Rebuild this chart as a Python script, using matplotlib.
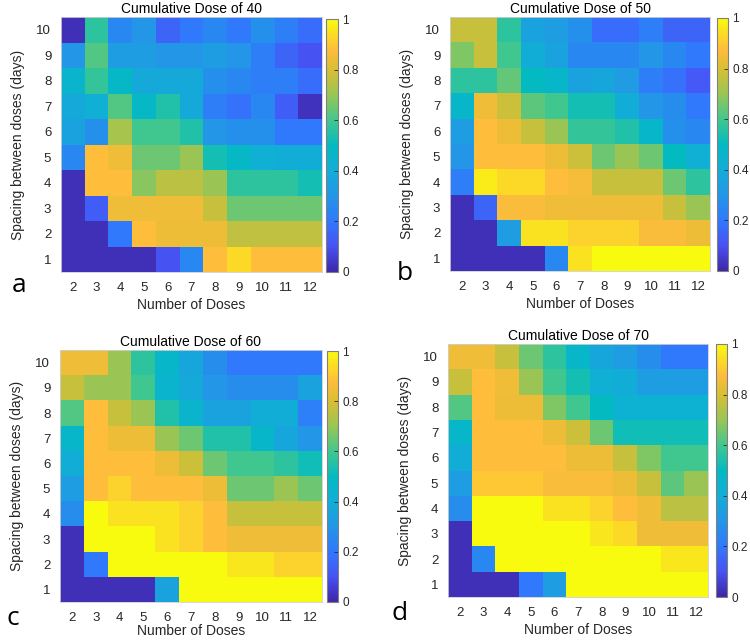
import numpy as np
import matplotlib
matplotlib.use("Agg")
import matplotlib.pyplot as plt
from matplotlib.colors import LinearSegmentedColormap

plt.rcParams['font.family'] = ['Liberation Sans', 'DejaVu Sans']

# parula-like colormap (MATLAB default)
parula_pts = [
    (0.00, (0.242, 0.150, 0.660)),
    (0.10, (0.281, 0.323, 0.958)),
    (0.20, (0.190, 0.470, 0.990)),
    (0.30, (0.135, 0.590, 0.905)),
    (0.40, (0.070, 0.680, 0.845)),
    (0.50, (0.010, 0.730, 0.760)),
    (0.60, (0.250, 0.780, 0.560)),
    (0.70, (0.600, 0.775, 0.330)),
    (0.80, (0.850, 0.745, 0.200)),
    (0.88, (0.995, 0.740, 0.235)),
    (1.00, (0.976, 0.983, 0.054)),
]
parula = LinearSegmentedColormap.from_list('parula', parula_pts)

n_doses = [2, 3, 4, 5, 6, 7, 8, 9, 10, 11, 12]
spacing = [1, 2, 3, 4, 5, 6, 7, 8, 9, 10]

# rows: spacing 1 (first) .. 10 (last); columns: number of doses 2..12
dose40 = [
    [0.02, 0.02, 0.02, 0.02, 0.10, 0.25, 0.88, 0.93, 0.88, 0.88, 0.88],
    [0.02, 0.02, 0.20, 0.88, 0.84, 0.84, 0.84, 0.76, 0.76, 0.76, 0.76],
    [0.02, 0.13, 0.85, 0.85, 0.85, 0.85, 0.77, 0.65, 0.65, 0.65, 0.65],
    [0.02, 0.88, 0.88, 0.68, 0.75, 0.75, 0.70, 0.57, 0.57, 0.57, 0.53],
    [0.25, 0.88, 0.85, 0.65, 0.65, 0.70, 0.53, 0.48, 0.42, 0.40, 0.40],
    [0.35, 0.28, 0.72, 0.60, 0.60, 0.55, 0.30, 0.28, 0.28, 0.20, 0.20],
    [0.38, 0.42, 0.62, 0.48, 0.55, 0.38, 0.22, 0.18, 0.25, 0.13, 0.03],
    [0.45, 0.58, 0.48, 0.38, 0.38, 0.38, 0.28, 0.25, 0.22, 0.22, 0.17],
    [0.30, 0.62, 0.33, 0.33, 0.30, 0.30, 0.33, 0.30, 0.22, 0.15, 0.10],
    [0.02, 0.57, 0.25, 0.30, 0.15, 0.20, 0.25, 0.20, 0.28, 0.22, 0.17],
]
dose50 = [
    [0.02, 0.02, 0.02, 0.02, 0.25, 0.95, 1.00, 1.00, 1.00, 1.00, 1.00],
    [0.02, 0.02, 0.33, 0.95, 0.95, 0.92, 0.92, 0.92, 0.87, 0.87, 0.84],
    [0.02, 0.15, 0.87, 0.87, 0.85, 0.85, 0.85, 0.85, 0.85, 0.77, 0.70],
    [0.22, 0.97, 0.93, 0.93, 0.88, 0.86, 0.77, 0.77, 0.77, 0.65, 0.57],
    [0.30, 0.88, 0.88, 0.88, 0.84, 0.78, 0.65, 0.70, 0.65, 0.50, 0.42],
    [0.33, 0.88, 0.84, 0.77, 0.70, 0.58, 0.58, 0.55, 0.47, 0.28, 0.25],
    [0.47, 0.85, 0.78, 0.63, 0.60, 0.53, 0.53, 0.40, 0.30, 0.27, 0.20],
    [0.57, 0.57, 0.64, 0.50, 0.47, 0.35, 0.37, 0.32, 0.22, 0.18, 0.12],
    [0.67, 0.77, 0.60, 0.40, 0.35, 0.25, 0.25, 0.25, 0.30, 0.25, 0.20],
    [0.77, 0.77, 0.57, 0.35, 0.33, 0.28, 0.17, 0.17, 0.22, 0.15, 0.15],
]
dose60 = [
    [0.02, 0.02, 0.02, 0.02, 0.35, 1.00, 1.00, 1.00, 1.00, 1.00, 1.00],
    [0.02, 0.20, 1.00, 1.00, 1.00, 1.00, 1.00, 0.96, 0.96, 0.92, 0.92],
    [0.02, 1.00, 1.00, 1.00, 0.95, 0.92, 0.88, 0.85, 0.85, 0.85, 0.85],
    [0.27, 1.00, 0.95, 0.95, 0.95, 0.92, 0.88, 0.77, 0.77, 0.77, 0.77],
    [0.33, 0.88, 0.92, 0.88, 0.88, 0.88, 0.84, 0.65, 0.65, 0.70, 0.65],
    [0.40, 0.88, 0.88, 0.88, 0.84, 0.78, 0.65, 0.60, 0.60, 0.57, 0.52],
    [0.47, 0.88, 0.84, 0.84, 0.70, 0.65, 0.55, 0.55, 0.47, 0.37, 0.30],
    [0.62, 0.88, 0.77, 0.70, 0.55, 0.45, 0.35, 0.35, 0.40, 0.40, 0.23],
    [0.77, 0.70, 0.70, 0.60, 0.45, 0.38, 0.30, 0.27, 0.27, 0.27, 0.35],
    [0.85, 0.85, 0.70, 0.57, 0.47, 0.37, 0.27, 0.20, 0.20, 0.20, 0.20],
]
dose70 = [
    [0.02, 0.02, 0.02, 0.20, 0.33, 1.00, 1.00, 1.00, 1.00, 1.00, 1.00],
    [0.02, 0.25, 1.00, 1.00, 1.00, 1.00, 1.00, 1.00, 1.00, 0.96, 0.96],
    [0.02, 1.00, 1.00, 1.00, 1.00, 1.00, 0.96, 0.93, 0.85, 0.85, 0.85],
    [0.27, 1.00, 1.00, 1.00, 0.95, 0.95, 0.92, 0.88, 0.85, 0.75, 0.75],
    [0.33, 0.90, 0.90, 0.90, 0.87, 0.87, 0.87, 0.84, 0.77, 0.63, 0.70],
    [0.40, 0.88, 0.88, 0.88, 0.88, 0.84, 0.84, 0.77, 0.67, 0.60, 0.60],
    [0.47, 0.88, 0.88, 0.88, 0.84, 0.78, 0.65, 0.52, 0.52, 0.52, 0.52],
    [0.62, 0.88, 0.84, 0.84, 0.67, 0.60, 0.50, 0.43, 0.43, 0.43, 0.43],
    [0.77, 0.88, 0.85, 0.70, 0.60, 0.53, 0.42, 0.40, 0.33, 0.33, 0.33],
    [0.85, 0.85, 0.77, 0.65, 0.57, 0.47, 0.37, 0.33, 0.27, 0.20, 0.20],
]

titles = ['Cumulative Dose of 40', 'Cumulative Dose of 50',
          'Cumulative Dose of 60', 'Cumulative Dose of 70']
panel_letters = ['a', 'b', 'c', 'd']
data = [dose40, dose50, dose60, dose70]

W, H = 750, 641
# pixel boxes: axes (x0, y0, x1, y1), colorbar (x0, x1, y0, y1), letter (x, y)
ax_boxes = [(61, 17, 322, 272), (450, 17, 710, 271),
            (60, 350, 322, 602), (448, 344, 708, 597)]
cb_boxes = [(326, 338, 19, 272), (717, 728, 18, 271),
            (327, 338, 351, 602), (716, 727, 344, 597)]
letter_pos = [(12, 292), (397, 280), (7, 625), (392, 620)]
xlabel_pad = [3, 3, 0, 3]

fig = plt.figure(figsize=(W / 100, H / 100), dpi=100)
txt = '#262626'

for i in range(4):
    x0, y0, x1, y1 = ax_boxes[i]
    ax = fig.add_axes([x0 / W, 1 - y1 / H, (x1 - x0) / W, (y1 - y0) / H])
    Z = np.array(data[i])
    im = ax.pcolormesh(np.arange(1.5, 13, 1), np.arange(0.5, 11, 1), Z,
                       cmap=parula, vmin=0, vmax=1)
    ax.set_xticks(n_doses)
    ax.set_yticks(spacing)
    ax.tick_params(length=0, labelsize=9.5, colors=txt, pad=7)
    for s in ax.spines.values():
        s.set_color('#d0d0d0')
        s.set_linewidth(0.6)
    ax.set_title(titles[i], fontsize=10, color='black', pad=3)
    ax.set_xlabel('Number of Doses', fontsize=10, color=txt, labelpad=xlabel_pad[i])
    ax.set_ylabel('Spacing between doses (days)', fontsize=10, color=txt, labelpad=8)

    c0, c1, cy0, cy1 = cb_boxes[i]
    cax = fig.add_axes([c0 / W, 1 - cy1 / H, (c1 - c0) / W, (cy1 - cy0) / H])
    cb = fig.colorbar(im, cax=cax, ticks=[0, 0.2, 0.4, 0.6, 0.8, 1])
    cb.ax.set_yticklabels(['0', '0.2', '0.4', '0.6', '0.8', '1'])
    cb.ax.tick_params(labelsize=8.5, colors=txt, direction='in', length=3, width=0.6, pad=3)
    cb.outline.set_edgecolor('#808080')
    cb.outline.set_linewidth(0.8)

    lx, ly = letter_pos[i]
    fig.text(lx / W, 1 - ly / H, panel_letters[i], fontsize=19,
             family=['Open Sans', 'DejaVu Sans'], color='black', va='baseline')

plt.savefig('out.png', dpi=100)
